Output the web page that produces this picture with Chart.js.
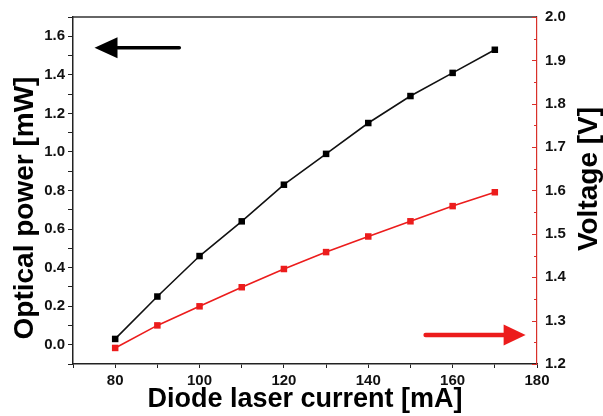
<!DOCTYPE html>
<html>
<head>
<meta charset="utf-8">
<script src="https://cdn.jsdelivr.net/npm/chart.js@4.4.1/dist/chart.umd.min.js"></script>
<style>
  html, body { margin: 0; padding: 0; background: #fff; }
</style>
</head>
<body>
<canvas id="chart" width="603" height="416"></canvas>
<script>
// measured values
var current = [80, 90, 100, 110, 120, 130, 140, 150, 160, 170];
var opticalPower = [0.03, 0.25, 0.46, 0.64, 0.83, 0.99, 1.15, 1.29, 1.41, 1.53];
var voltage = [1.237, 1.289, 1.333, 1.377, 1.419, 1.458, 1.494, 1.529, 1.564, 1.596];

// labelled ticks
var currentTicks = [80, 100, 120, 140, 160, 180];
var powerTicks = [0.0, 0.2, 0.4, 0.6, 0.8, 1.0, 1.2, 1.4, 1.6];
var voltageTicks = [1.2, 1.3, 1.4, 1.5, 1.6, 1.7, 1.8, 1.9, 2.0];

// arrows: [from x, to x, y]
var powerArrow = [95.2, 75.1, 1.54];
var voltageArrow = [153.6, 177.3, 1.267];

var FONT = "Arial, 'Liberation Sans', sans-serif";
var RED = "#ec1c1c";

function inList(list, v) {
  for (var i = 0; i < list.length; i++) {
    if (Math.abs(list[i] - v) < 1e-6) return true;
  }
  return false;
}

function points(xs, ys) {
  return xs.map(function (x, i) { return { x: x, y: ys[i] }; });
}

function drawArrow(ctx, x0, x1, y, color, shaft, headLen, headHalf) {
  var dir = x1 > x0 ? 1 : -1;
  ctx.save();
  ctx.strokeStyle = color;
  ctx.fillStyle = color;
  ctx.lineWidth = shaft;
  ctx.lineCap = "round";
  ctx.beginPath();
  ctx.moveTo(x0, y);
  ctx.lineTo(x1 - dir * headLen, y);
  ctx.stroke();
  ctx.beginPath();
  ctx.moveTo(x1, y);
  ctx.lineTo(x1 - dir * headLen, y - headHalf);
  ctx.lineTo(x1 - dir * headLen, y + headHalf);
  ctx.closePath();
  ctx.fill();
  ctx.restore();
}

var extras = {
  id: "extras",
  afterDatasetsDraw: function (chart) {
    var ctx = chart.ctx;
    var x = chart.scales.x, y = chart.scales.y, y1 = chart.scales.y1;
    drawArrow(ctx, x.getPixelForValue(powerArrow[0]), x.getPixelForValue(powerArrow[1]),
      y.getPixelForValue(powerArrow[2]), "#000", 3.5, 23, 10.5);
    drawArrow(ctx, x.getPixelForValue(voltageArrow[0]), x.getPixelForValue(voltageArrow[1]),
      y1.getPixelForValue(voltageArrow[2]), RED, 4.5, 22, 10.5);
  },
  afterDraw: function (chart) {
    var ctx = chart.ctx;
    var area = chart.chartArea;
    var y1 = chart.scales.y1;

    // top frame line
    ctx.save();
    ctx.strokeStyle = "#333";
    ctx.lineWidth = 1.5;
    ctx.beginPath();
    ctx.moveTo(area.left, area.top);
    ctx.lineTo(area.right, area.top);
    ctx.stroke();

    // inward ticks on the voltage axis
    ctx.strokeStyle = "#d9302a";
    ctx.lineWidth = 1;
    y1.ticks.forEach(function (t) {
      var py = Math.round(y1.getPixelForValue(t.value)) + 0.5;
      var len = inList(voltageTicks, t.value) ? 5 : 3;
      ctx.beginPath();
      ctx.moveTo(area.right - len, py);
      ctx.lineTo(area.right, py);
      ctx.stroke();
    });

    // vertical axis titles, both reading bottom to top
    ctx.fillStyle = "#000";
    ctx.font = "bold 28px " + FONT;
    ctx.textAlign = "center";
    ctx.textBaseline = "alphabetic";
    ctx.translate(33, 208);
    ctx.rotate(-Math.PI / 2);
    ctx.fillText("Optical power [mW]", 0, 0);
    ctx.restore();

    ctx.save();
    ctx.fillStyle = "#000";
    ctx.font = "bold 28px " + FONT;
    ctx.textAlign = "center";
    ctx.textBaseline = "alphabetic";
    ctx.translate(597, 179);
    ctx.rotate(-Math.PI / 2);
    ctx.fillText("Voltage [V]", 0, 0);
    ctx.restore();
  }
};

var ctx = document.getElementById("chart").getContext("2d");

var chart = new Chart(ctx, {
  type: "line",
  data: {
    datasets: [
      {
        label: "Optical power",
        data: points(current, opticalPower),
        yAxisID: "y",
        borderColor: "#111",
        backgroundColor: "#000",
        borderWidth: 1.6,
        pointStyle: "rect",
        pointRadius: 4.6,
        pointBorderWidth: 0,
        tension: 0
      },
      {
        label: "Voltage",
        data: points(current, voltage),
        yAxisID: "y1",
        borderColor: RED,
        backgroundColor: RED,
        borderWidth: 1.6,
        pointStyle: "rect",
        pointRadius: 4.6,
        pointBorderWidth: 0,
        tension: 0
      }
    ]
  },
  options: {
    responsive: false,
    animation: false,
    layout: { padding: { top: 15, left: 0, right: 0, bottom: 0 } },
    plugins: {
      legend: { display: false },
      tooltip: { enabled: false }
    },
    scales: {
      x: {
        type: "linear",
        min: 70,
        max: 180,
        afterFit: function (s) { s.height = 52; },
        border: { color: "#222", width: 1.5 },
        grid: { drawOnChartArea: false, tickLength: 4, tickColor: "#222" },
        ticks: {
          stepSize: 10,
          autoSkip: false,
          maxRotation: 0,
          padding: 4,
          color: "#111",
          font: { family: FONT, size: 15, weight: "bold" },
          callback: function (v) { return inList(currentTicks, v) ? String(v) : ""; }
        },
        title: {
          display: true,
          text: "Diode laser current [mA]",
          color: "#000",
          padding: 0,
          font: { family: FONT, size: 27, weight: "bold" }
        }
      },
      y: {
        position: "left",
        min: -0.1,
        max: 1.7,
        afterFit: function (s) { s.width = 73; },
        border: { color: "#222", width: 1.5 },
        grid: { drawOnChartArea: false, tickLength: 5, tickColor: "#222" },
        ticks: {
          stepSize: 0.1,
          autoSkip: false,
          padding: 3,
          color: "#111",
          font: { family: FONT, size: 15, weight: "bold" },
          callback: function (v) { return inList(powerTicks, v) ? v.toFixed(1) : ""; }
        }
      },
      y1: {
        position: "right",
        min: 1.2,
        max: 2.0,
        afterFit: function (s) { s.width = 66; },
        border: { color: "#d9302a", width: 1.2 },
        grid: { drawOnChartArea: false, drawTicks: false },
        ticks: {
          stepSize: 0.05,
          autoSkip: false,
          padding: 8,
          color: "#111",
          font: { family: FONT, size: 15, weight: "bold" },
          callback: function (v) { return inList(voltageTicks, v) ? v.toFixed(1) : ""; }
        }
      }
    }
  },
  plugins: [extras]
});
</script>
</body>
</html>
